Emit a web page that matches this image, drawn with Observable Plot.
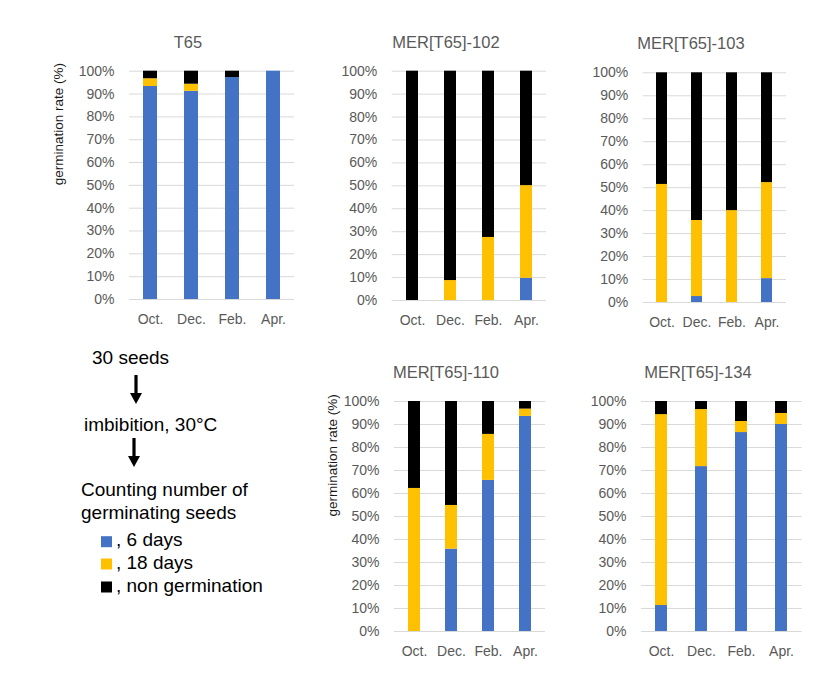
<!DOCTYPE html>
<html>
<head>
<meta charset="utf-8">
<script src="https://cdn.jsdelivr.net/npm/d3@7"></script>
<script src="https://cdn.jsdelivr.net/npm/@observablehq/plot@0.6"></script>
<style>
  html, body { margin: 0; padding: 0; background: #fff; }
  #page { position: relative; width: 836px; height: 690px; background: #fff; overflow: hidden; }
  #page > svg, #page > .panel { position: absolute; }
  .panel svg { display: block; overflow: visible; }
</style>
</head>
<body>
<div id="page"></div>
<script>
// ---------- data ----------
const months = ["Oct.", "Dec.", "Feb.", "Apr."];
const series = ["6 days", "18 days", "non germination"];
const seriesColors = ["#4472C4", "#FFC000", "#000000"];
const yTicks = [0, 10, 20, 30, 40, 50, 60, 70, 80, 90, 100];

const t65_6d   = [93.3, 91.2, 97.2, 100];
const t65_18d  = [3.4, 3.1, 0, 0];
const t65_non  = [3.3, 5.7, 2.8, 0];

const m102_6d  = [0, 0, 0, 9.7];
const m102_18d = [0, 8.7, 27.5, 40.4];
const m102_non = [100, 91.3, 72.5, 49.9];

const m103_6d  = [0, 2.6, 0, 10.4];
const m103_18d = [51.4, 33.1, 40, 41.8];
const m103_non = [48.6, 64.3, 60, 47.8];

const m110_6d  = [0, 35.8, 65.7, 93.5];
const m110_18d = [62.2, 19, 20, 3.2];
const m110_non = [37.8, 45.2, 14.3, 3.3];

const m134_6d  = [11.3, 71.7, 86.5, 90];
const m134_18d = [83, 24.8, 4.8, 4.8];
const m134_non = [5.7, 3.5, 8.7, 5.2];

const titles = ["T65", "MER[T65]-102", "MER[T65]-103", "MER[T65]-110", "MER[T65]-134"];
const yAxisTitle = "germination rate (%)";
const flowTexts = ["30 seeds", "imbibition, 30°C", "Counting number of", "germinating seeds"];
const legendTexts = [", 6 days", ", 18 days", ", non germination"];

// ---------- helpers ----------
function rowsOf(a, b, c) {
  const rows = [];
  [a, b, c].forEach((vals, si) => {
    vals.forEach((v, mi) => rows.push({month: months[mi], series: series[si], value: v}));
  });
  return rows;
}

const page = document.getElementById("page");
const FONT = "'Liberation Sans', Arial, sans-serif";

function panel(cfg) {
  const marks = [
    Plot.gridY(yTicks, {stroke: "#d9d9d9", strokeOpacity: 1, strokeWidth: 1}),
    Plot.barY(cfg.rows, {x: "month", y: "value", fill: "series", order: series}),
    Plot.axisY(yTicks, {tickSize: 0, tickPadding: 15, tickFormat: d => d + "%", label: null,
                        fill: "#595959", fontSize: 14}),
    Plot.axisX({tickSize: 0, tickPadding: 15, label: null, fill: "#595959", fontSize: 14})
  ];
  if (cfg.ylabel) {
    marks.push(Plot.text([yAxisTitle], {
      frameAnchor: "left", rotate: -90, dx: -cfg.ylabelOffset,
      fill: "#1a1a1a", fontSize: 13.5, text: d => d
    }));
  }
  const chart = Plot.plot({
    width: cfg.w, height: cfg.h,
    marginLeft: cfg.mL, marginRight: cfg.mR, marginTop: cfg.mT, marginBottom: cfg.mB,
    style: {fontFamily: FONT, fontSize: "14px", background: "transparent", color: "#595959"},
    x: {domain: months, paddingInner: cfg.pad, paddingOuter: cfg.pad / 2, label: null},
    y: {domain: [0, 100], label: null},
    color: {domain: series, range: seriesColors},
    marks
  });
  const div = document.createElement("div");
  div.className = "panel";
  div.style.left = cfg.left + "px";
  div.style.top = cfg.top + "px";
  div.appendChild(chart);
  page.appendChild(div);
}

panel({rows: rowsOf(t65_6d, t65_18d, t65_non), left: 40, top: 20, w: 270, h: 320,
       mL: 89, mR: 16, mT: 50.7, mB: 41, pad: 0.67, ylabel: true, ylabelOffset: 71});
panel({rows: rowsOf(m102_6d, m102_18d, m102_non), left: 320, top: 20, w: 250, h: 320,
       mL: 71.7, mR: 24, mT: 50.7, mB: 40, pad: 0.69});
panel({rows: rowsOf(m103_6d, m103_18d, m103_non), left: 570, top: 20, w: 250, h: 320,
       mL: 72.7, mR: 34, mT: 52.3, mB: 38, pad: 0.68});
panel({rows: rowsOf(m110_6d, m110_18d, m110_non), left: 310, top: 355, w: 260, h: 320,
       mL: 84, mR: 25, mT: 46, mB: 44, pad: 0.68, ylabel: true, ylabelOffset: 62});
panel({rows: rowsOf(m134_6d, m134_18d, m134_non), left: 570, top: 355, w: 250, h: 320,
       mL: 71, mR: 18.3, mT: 46, mB: 44, pad: 0.69});

// ---------- overlay: titles, flow text, legend ----------
const svg = d3.select(page).append("svg")
  .attr("width", 836).attr("height", 690)
  .style("left", "0px").style("top", "0px")
  .style("pointer-events", "none")
  .style("font-family", FONT);

const titlePos = [[188, 47.5], [446, 47.5], [691, 49], [446, 378], [698, 378]];
titles.forEach((t, i) => {
  svg.append("text").attr("x", titlePos[i][0]).attr("y", titlePos[i][1])
    .attr("text-anchor", "middle").attr("font-size", 16.5).attr("fill", "#595959").text(t);
});

const flowPos = [[92, 364], [84, 431], [81, 496], [81, 519]];
flowTexts.forEach((t, i) => {
  svg.append("text").attr("x", flowPos[i][0]).attr("y", flowPos[i][1])
    .attr("font-size", 19).attr("fill", "#000").text(t);
});

function arrow(cx, y0, y1) {
  const headH = 11, headW = 12, shaftW = 3.2;
  svg.append("rect").attr("x", cx - shaftW / 2).attr("y", y0)
    .attr("width", shaftW).attr("height", y1 - y0 - headH + 1).attr("fill", "#000");
  svg.append("path")
    .attr("d", `M${cx - headW / 2},${y1 - headH} L${cx + headW / 2},${y1 - headH} L${cx},${y1} Z`)
    .attr("fill", "#000");
}
arrow(136, 375, 404);
arrow(134, 438, 467);

const legendY = [541.7, 564, 587];
legendTexts.forEach((t, i) => {
  svg.append("rect").attr("x", 101).attr("y", legendY[i] - 5.5).attr("width", 11).attr("height", 11)
    .attr("fill", seriesColors[i]);
  svg.append("text").attr("x", 116).attr("y", legendY[i] + 4.5)
    .attr("font-size", 19).attr("fill", "#000").text(t);
});
</script>
</body>
</html>
